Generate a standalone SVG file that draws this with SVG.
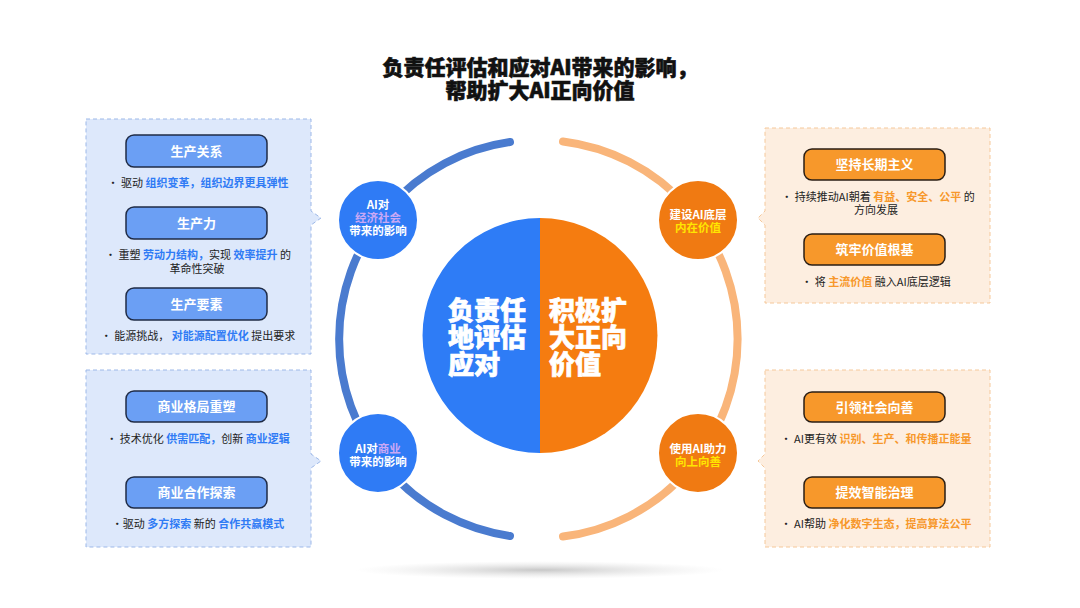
<svg xmlns="http://www.w3.org/2000/svg" width="1080" height="608" viewBox="0 0 1080 608">
<defs>
<style>
text{font-family:"Noto Sans CJK SC","Liberation Sans",sans-serif;}
.title{font-size:21px;font-weight:900;fill:#111;stroke:#111;stroke-width:0.6;}
.pillB{fill:#6B9FF4;stroke:#1F2B45;stroke-width:1.5;}
.pillO{fill:#F7982B;stroke:#2A1E14;stroke-width:1.5;}
.pt{font-size:13px;font-weight:700;fill:#fff;text-anchor:middle;}
.bt{font-size:11px;fill:#222;text-anchor:middle;}
.hb{fill:#2F7BF5;font-weight:700;}
.ho{fill:#F7982B;font-weight:700;}
.panB{fill:#DDE8FB;stroke:#9DB8E8;stroke-width:1;stroke-dasharray:4 3;}
.panO{fill:#FDEEE0;stroke:#F5C89A;stroke-width:1;stroke-dasharray:4 3;}
.big{font-size:26px;font-weight:900;fill:#fff;stroke:#fff;stroke-width:0.7;}
.sc{font-size:11.5px;font-weight:700;fill:#fff;text-anchor:middle;}
.lav{fill:#C9A8F5;}
.yel{fill:#FFE600;}
</style>
<radialGradient id="shadow" cx="0.5" cy="0.5" r="0.5">
<stop offset="0" stop-color="#9a9a9a" stop-opacity="0.55"/>
<stop offset="1" stop-color="#cccccc" stop-opacity="0"/>
</radialGradient>
</defs>
<rect width="1080" height="608" fill="#fff"/>

<g id="title">
<text class="title" x="540" y="75" text-anchor="middle">负责任评估和应对AI带来的影响，<tspan x="540" y="98">帮助扩大AI正向价值</tspan></text>
</g>

<ellipse cx="540" cy="570" rx="185" ry="9" fill="url(#shadow)"/>

<g id="connectors" fill="none" stroke-width="8" stroke-linecap="round">
<path d="M510,142 A199,199 0 0 0 510,536" stroke="#4A7BCF"/>
<path d="M563,141.5 A199,199 0 0 1 563,536.5" stroke="#F9B57A"/>
</g>

<g id="center">
<path d="M540,218 A117.5,117.5 0 0 0 540,453 Z" fill="#2E7CF6"/>
<path d="M540,218 A117.5,117.5 0 0 1 540,453 Z" fill="#F57C10"/>
<text class="big" x="448" y="320">负责任<tspan x="448" y="347">地评估</tspan><tspan x="448" y="374">应对</tspan></text>
<text class="big" x="549" y="320">积极扩<tspan x="549" y="347">大正向</tspan><tspan x="549" y="374">价值</tspan></text>
</g>

<g id="node-econ">
<circle cx="378" cy="220" r="40" fill="#2F7BF5" stroke="#fff" stroke-width="2"/>
<text class="sc" x="378" y="209">AI对<tspan class="lav" x="378" y="222">经济社会</tspan><tspan x="378" y="235">带来的影响</tspan></text>
</g>
<g id="node-biz">
<circle cx="378" cy="453" r="40" fill="#2F7BF5" stroke="#fff" stroke-width="2"/>
<text class="sc" x="378" y="453">AI对<tspan class="lav">商业</tspan><tspan x="378" y="466">带来的影响</tspan></text>
</g>
<g id="node-base">
<circle cx="698" cy="220" r="40" fill="#F07A12" stroke="#fff" stroke-width="2"/>
<text class="sc" x="698" y="219">建设AI底层<tspan class="yel" x="698" y="232">内在价值</tspan></text>
</g>
<g id="node-good">
<circle cx="698" cy="453" r="40" fill="#F07A12" stroke="#fff" stroke-width="2"/>
<text class="sc" x="698" y="453">使用AI助力<tspan class="yel" x="698" y="466">向上向善</tspan></text>
</g>

<g id="panel-econ">
<path class="panB" d="M86,119 H311 V211 L321,218 L311,225 V354 H86 Z"/>
<rect class="pillB" x="126" y="135" width="141" height="32" rx="8"/>
<text class="pt" x="196.5" y="156">生产关系</text>
<text class="bt" x="198" y="187">· 驱动 <tspan class="hb">组织变革，组织边界更具弹性</tspan></text>
<rect class="pillB" x="126" y="207" width="141" height="32" rx="8"/>
<text class="pt" x="196.5" y="228">生产力</text>
<text class="bt" x="198" y="259">· 重塑 <tspan class="hb">劳动力结构，</tspan>实现 <tspan class="hb">效率提升</tspan> 的<tspan x="197" y="273">革命性突破</tspan></text>
<rect class="pillB" x="126" y="288" width="141" height="32" rx="8"/>
<text class="pt" x="196.5" y="309">生产要素</text>
<text class="bt" x="198" y="340">· 能源挑战， <tspan class="hb">对能源配置优化</tspan> 提出要求</text>
</g>

<g id="panel-biz">
<path class="panB" d="M86,370 H311 V454 L321,461 L311,468 V547 H86 Z"/>
<rect class="pillB" x="126" y="391" width="141" height="31" rx="8"/>
<text class="pt" x="196.5" y="411">商业格局重塑</text>
<text class="bt" x="198" y="443">· 技术优化 <tspan class="hb">供需匹配，</tspan>创新 <tspan class="hb">商业逻辑</tspan></text>
<rect class="pillB" x="126" y="477" width="141" height="31" rx="8"/>
<text class="pt" x="196.5" y="497">商业合作探索</text>
<text class="bt" x="198" y="528">·驱动 <tspan class="hb">多方探索</tspan> 新的 <tspan class="hb">合作共赢模式</tspan></text>
</g>

<g id="panel-base">
<path class="panO" d="M765,128 H990 V303 H765 V225 L758,218 L765,211 Z"/>
<rect class="pillO" x="804" y="149" width="141" height="31" rx="8"/>
<text class="pt" x="874.5" y="169">坚持长期主义</text>
<text class="bt" x="878" y="201">· 持续推动AI朝着 <tspan class="ho">有益、安全、公平</tspan> 的<tspan x="876" y="214">方向发展</tspan></text>
<rect class="pillO" x="804" y="234" width="141" height="31" rx="8"/>
<text class="pt" x="874.5" y="254">筑牢价值根基</text>
<text class="bt" x="876" y="286">· 将 <tspan class="ho">主流价值</tspan> 融入AI底层逻辑</text>
</g>

<g id="panel-good">
<path class="panO" d="M765,370 H990 V547 H765 V468 L758,461 L765,454 Z"/>
<rect class="pillO" x="804" y="392" width="141" height="30" rx="8"/>
<text class="pt" x="874.5" y="412">引领社会向善</text>
<text class="bt" x="876" y="443">· AI更有效 <tspan class="ho">识别、生产、和传播正能量</tspan></text>
<rect class="pillO" x="804" y="477" width="141" height="31" rx="8"/>
<text class="pt" x="874.5" y="497">提效智能治理</text>
<text class="bt" x="876" y="528">· AI帮助 <tspan class="ho">净化数字生态，提高算法公平</tspan></text>
</g>
</svg>
